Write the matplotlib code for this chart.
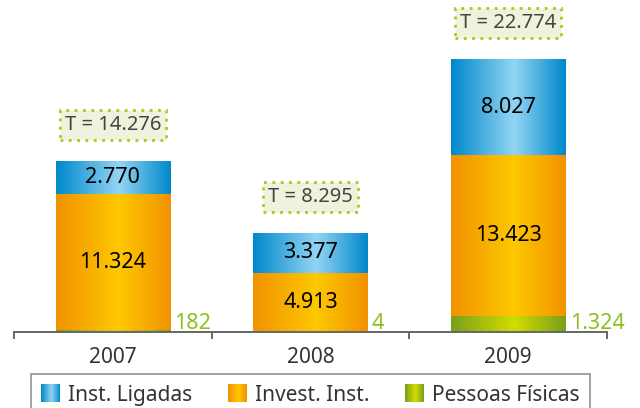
import numpy as np
import matplotlib.pyplot as plt
from matplotlib.colors import LinearSegmentedColormap
from matplotlib.patches import Rectangle
from matplotlib.legend_handler import HandlerBase

plt.rcParams['font.family'] = ['Noto Sans', 'DejaVu Sans']

years = ['2007', '2008', '2009']
pessoas_fisicas = [182, 4, 1324]
invest_inst = [11324, 4913, 13423]
inst_ligadas = [2770, 3377, 8027]
totals = [14276, 8295, 22774]

pf_labels = ['182', '4', '1.324']
inv_labels = ['11.324', '4.913', '13.423']
lig_labels = ['2.770', '3.377', '8.027']
total_labels = ['T = 14.276', 'T = 8.295', 'T = 22.774']

series_names = ['Inst. Ligadas', 'Invest. Inst.', 'Pessoas Físicas']


def gradient_cmap(edge, mid):
    return LinearSegmentedColormap.from_list('g', [(0, edge), (0.55, mid), (1, edge)])


cmap_blue = gradient_cmap('#0088cc', '#92d5f3')
cmap_orange = gradient_cmap('#f29200', '#fdc800')
cmap_green = gradient_cmap('#78a01a', '#d3dc00')


class GradientHandler(HandlerBase):
    def __init__(self, cmap):
        super().__init__()
        self.cmap = cmap

    def create_artists(self, legend, orig_handle, xdescent, ydescent,
                       width, height, fontsize, trans):
        n = 24
        arts = []
        for i in range(n):
            r = Rectangle((-xdescent + width * i / n, -ydescent), width / n * 1.1, height,
                          facecolor=self.cmap((i + 0.5) / n), edgecolor='none',
                          transform=trans)
            arts.append(r)
        return arts


def fill_gradient(ax, bars, cmap):
    grad = np.linspace(0, 1, 256).reshape(1, -1)
    for rect in bars:
        x0, y0 = rect.get_x(), rect.get_y()
        w, h = rect.get_width(), rect.get_height()
        if h <= 0:
            continue
        im = ax.imshow(grad, cmap=cmap, aspect='auto', extent=(x0, x0 + w, y0, y0 + h),
                       zorder=2, interpolation='bilinear')
        im.set_clip_path(rect)


fig = plt.figure(figsize=(6.4, 4.08), dpi=100)
ax = fig.add_axes([14 / 640, 76 / 408, 593 / 640, 332 / 408])

x = np.arange(len(years))
width = 0.58
bottom2 = np.array(pessoas_fisicas) + np.array(invest_inst)

b_pf = ax.bar(x, pessoas_fisicas, width, color='none', edgecolor='none')
b_inv = ax.bar(x, invest_inst, width, bottom=pessoas_fisicas, color='none', edgecolor='none')
b_lig = ax.bar(x, inst_ligadas, width, bottom=bottom2, color='none', edgecolor='none')

fill_gradient(ax, b_pf, cmap_green)
fill_gradient(ax, b_inv, cmap_orange)
fill_gradient(ax, b_lig, cmap_blue)

# values inside segments, totals in dotted boxes above
for i in range(len(years)):
    ax.text(x[i], pessoas_fisicas[i] + invest_inst[i] / 2, inv_labels[i],
            ha='center', va='center', fontsize=15.5, color='black', zorder=3)
    ax.text(x[i], bottom2[i] + inst_ligadas[i] / 2, lig_labels[i],
            ha='center', va='center', fontsize=15.5, color='black', zorder=3)
    ax.annotate(pf_labels[i], xy=(x[i] + width / 2, 0), xytext=(3, 2),
                textcoords='offset points', ha='left', va='baseline',
                fontsize=15.5, color='#8fbf1f', zorder=3)
    ax.annotate(total_labels[i], xy=(x[i], totals[i]), xytext=(0, 26),
                textcoords='offset points', ha='center', va='center',
                fontsize=14.5, color='#444444', zorder=3,
                bbox=dict(boxstyle='square,pad=0.25', facecolor='#eff3dd',
                          edgecolor='#a8c81c', linestyle=(0, (1, 2)), linewidth=2))

ax.set_xlim(-0.5, 2.5)
ax.set_ylim(0, 27720)

for s in ['top', 'right', 'left']:
    ax.spines[s].set_visible(False)
ax.spines['bottom'].set_color('#666666')
ax.spines['bottom'].set_linewidth(1.4)
ax.set_yticks([])
ax.set_xticks(x)
ax.set_xticklabels(years, fontsize=15, color='#333333')
ax.set_xticks([-0.5, 0.5, 1.5, 2.5], minor=True)
ax.tick_params(axis='x', which='major', length=0, pad=11)
ax.tick_params(axis='x', which='minor', length=5, width=1.4, color='#666666', direction='out')

handles = [Rectangle((0, 0), 1, 1) for _ in series_names]
h_lig, h_inv, h_pf = handles
leg = fig.legend(handles, series_names, loc='upper left',
                 bbox_to_anchor=(31 / 640, 1 - 374 / 408), borderaxespad=0,
                 ncol=3, fontsize=15, frameon=True, fancybox=False,
                 handlelength=0.9, handleheight=0.95, handletextpad=0.4,
                 columnspacing=1.7, borderpad=0.5,
                 handler_map={h_lig: GradientHandler(cmap_blue),
                              h_inv: GradientHandler(cmap_orange),
                              h_pf: GradientHandler(cmap_green)})
leg.get_frame().set_edgecolor('#777777')
leg.get_frame().set_linewidth(1.2)
for t in leg.get_texts():
    t.set_color('#333333')

fig.savefig('out.png', dpi=100)
